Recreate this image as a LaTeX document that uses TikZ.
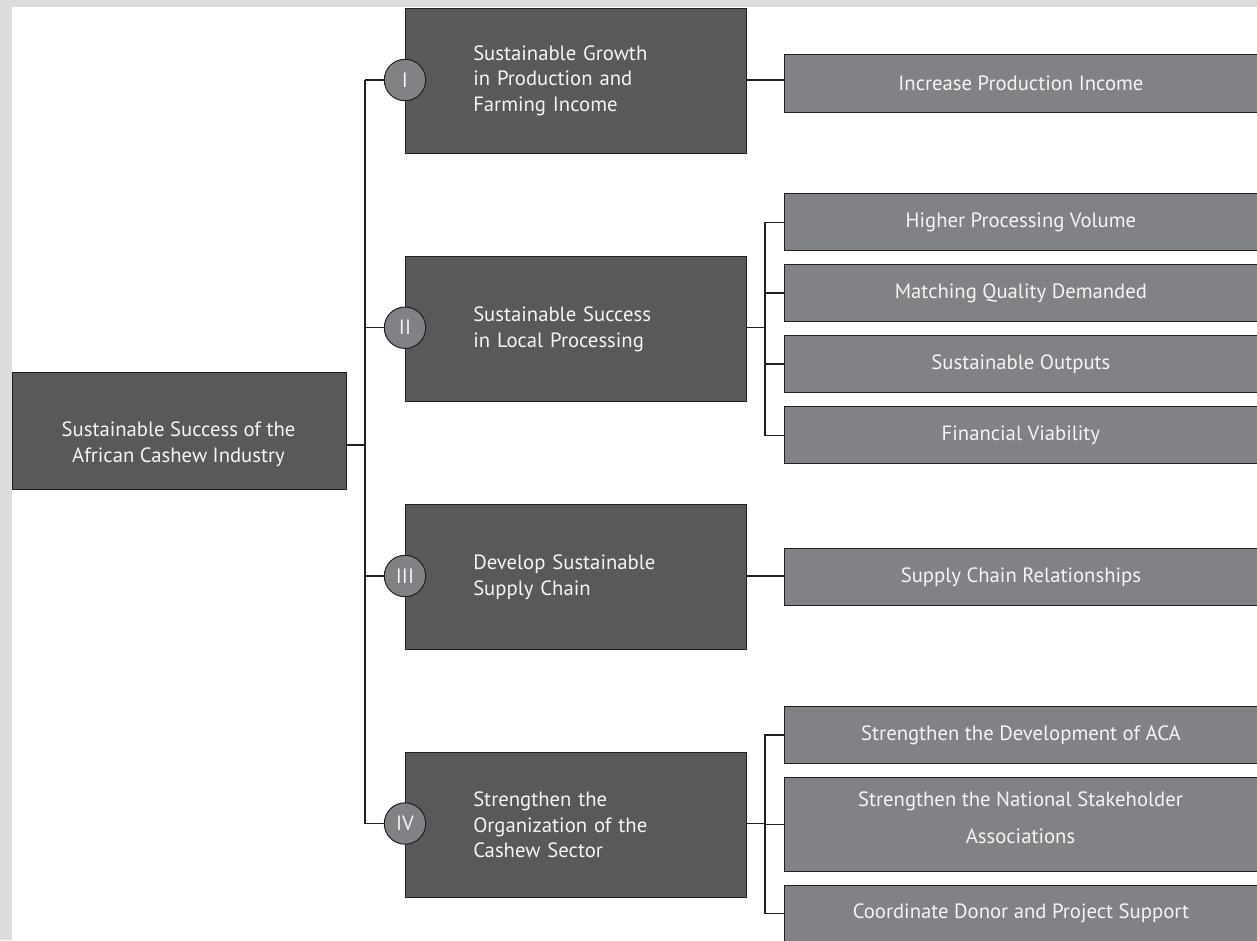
\documentclass[tikz,border=0pt]{standalone}
\usepackage{fontspec}
\setmainfont{PT Sans}
\definecolor{dkfill}{HTML}{58595B}
\definecolor{ltfill}{HTML}{808285}
\definecolor{edge}{HTML}{231F20}
\definecolor{bggray}{HTML}{DCDDDE}
\definecolor{txtc}{HTML}{F4F4F4}
\tikzset{
  dkbox/.style={draw=edge, line width=1pt, fill=dkfill, text=txtc, inner sep=0pt, anchor=north west, font=\fontsize{20.7}{25.7}\selectfont},
  ltbox/.style={draw=edge, line width=1pt, fill=ltfill, text=txtc, inner sep=0pt, anchor=north west, minimum width=472.2pt, font=\fontsize{20.7}{25.7}\selectfont, align=center},
  circ/.style={circle, draw=edge, line width=1pt, fill=ltfill, text=txtc, minimum size=41.4pt, inner sep=0pt, font=\fontsize{20.7}{22}\selectfont},
  lvl/.style={dkbox, minimum width=340.7pt, minimum height=145pt, text width=205.2pt, align=left},
  conn/.style={draw=edge, line width=1.1pt},
  txtnode/.style={text=txtc, inner sep=0pt, align=center, font=\fontsize{20.7}{25.7}\selectfont}
}
\begin{document}
\begin{tikzpicture}[x=1pt,y=-1pt]
\useasboundingbox (0,0) rectangle (1257,940);
\fill[bggray] (0,0) rectangle (1257,940);
\fill[white] (12,7) rectangle (1257,940);

% root
\node[dkbox, minimum width=334pt, minimum height=116.7pt] (root) at (11.7,372.3) {};
\node[txtnode] (roottext) at (178.5,444) {Sustainable Success of the\\African Cashew Industry};

% level 1 boxes
\node[lvl] (b1) at (405,7.7) {Sustainable Growth\\in Production and\\Farming Income};
\node[lvl] (b2) at (405,256) {Sustainable Success\\in Local Processing};
\node[lvl] (b3) at (405,504) {Develop Sustainable\\Supply Chain};
\node[lvl] (b4) at (405,752) {Strengthen the\\Organization of the\\Cashew Sector};

% right boxes
\node[ltbox, minimum height=57.4pt] (r1) at (784.3,54.3) {Increase Production Income};
\node[ltbox, minimum height=57pt] (r2a) at (784.3,193.3) {Higher Processing Volume};
\node[ltbox, minimum height=57pt] (r2b) at (784.3,264) {Matching Quality Demanded};
\node[ltbox, minimum height=57pt] (r2c) at (784.3,335) {Sustainable Outputs};
\node[ltbox, minimum height=57.3pt] (r2d) at (784.3,406) {Financial Viability};
\node[ltbox, minimum height=57.3pt] (r3) at (784.3,547.7) {Supply Chain Relationships};
\node[ltbox, minimum height=57pt] (r4a) at (784.3,706) {Strengthen the Development of ACA};
\node[ltbox, minimum height=94pt] (r4b) at (784.3,777) {};
\node[txtnode, font=\fontsize{20.7}{36.7}\selectfont] (r4btext) at (1020.5,818) {Strengthen the National Stakeholder\\Associations};
\node[ltbox, minimum height=57pt] (r4c) at (784.3,884.7) {Coordinate Donor and Project Support};

% trunk coordinates
\coordinate (t0) at (365,445);
\coordinate (t1) at (365,80);
\coordinate (t2) at (365,327.7);
\coordinate (t3) at (365,576);
\coordinate (t4) at (365,823.5);
\coordinate (k2) at (765,327.7);
\coordinate (k4) at (765,823.5);

% connectors on the left
\draw[conn] (root.east |- t0) -- (t0);
\draw[conn] (t1) -- (t4);

% circles
\node[circ] (c1) at (405,80) {I};
\node[circ] (c2) at (405,327.7) {II};
\node[circ] (c3) at (405,576) {III};
\node[circ] (c4) at (405,823.5) {IV};
\draw[conn] (t1) -- (c1.west);
\draw[conn] (t2) -- (c2.west);
\draw[conn] (t3) -- (c3.west);
\draw[conn] (t4) -- (c4.west);

% connectors on the right
\draw[conn] (b1.east |- c1) -- (r1.west |- c1);
\draw[conn] (b3.east |- c3) -- (r3.west |- c3);

\draw[conn] (b2.east |- k2) -- (k2);
\draw[conn] (r2a.west) -| (k2 |- r2d.west) -- (r2d.west);
\draw[conn] (k2 |- r2b.west) -- (r2b.west);
\draw[conn] (k2 |- r2c.west) -- (r2c.west);

\draw[conn] (b4.east |- k4) -- (k4);
\draw[conn] (r4a.west) -| (k4 |- r4c.west) -- (r4c.west);
\draw[conn] (k4 |- r4b.west) -- (r4b.west);
\end{tikzpicture}
\end{document}
